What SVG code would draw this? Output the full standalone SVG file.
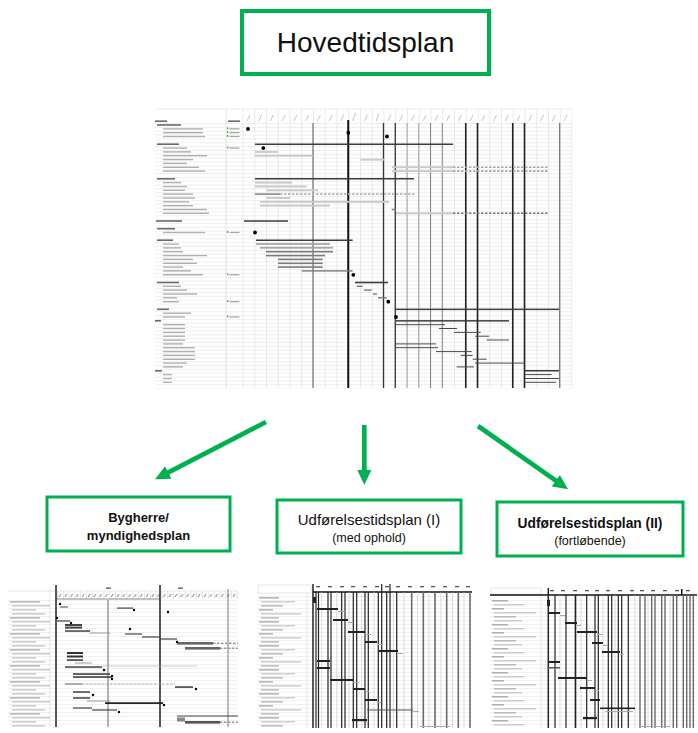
<svg xmlns="http://www.w3.org/2000/svg" width="698" height="733" viewBox="0 0 698 733">
<style>
.box{fill:#fff;stroke:#00B050;stroke-width:3}
.t{font-family:"Liberation Sans",Arial,sans-serif;fill:#111;text-anchor:middle}
.b{font-weight:bold}
.arrow{stroke:#00B050;stroke-width:4.7;fill:none}
.lh{fill:#6a6a6a}
.li{fill:#b0b0b0}
.bd{fill:#3c3c3c}
.bl{fill:#cacaca}
.bm{fill:#7a7a7a}
.bk{fill:#4a4a4a}
.dot{fill:#000}
.ms{fill:#3cb043}
.md{fill:#a8a8a8}
.dash{stroke-dasharray:2.5 1.5;fill:none}
</style>
<defs>
<marker id="ah" markerUnits="userSpaceOnUse" markerWidth="15" markerHeight="14" refX="7" refY="7" orient="auto">
<path d="M0,0 L15,7 L0,14 Z" fill="#00B050"/>
</marker>
<pattern id="mrows" patternUnits="userSpaceOnUse" x="0" y="123.09" width="20" height="3.84"><rect width="20" height="0.45" fill="#dadada"/></pattern>
<pattern id="mcols" patternUnits="userSpaceOnUse" x="242.5" y="0" width="11.75" height="20"><rect width="0.5" height="20" fill="#d6d6d6"/></pattern>
<pattern id="trows" patternUnits="userSpaceOnUse" x="0" y="0" width="20" height="4"><rect width="20" height="0.45" fill="#dedede"/></pattern>
<pattern id="thead1" patternUnits="userSpaceOnUse" x="57" y="591" width="5.8" height="8"><rect x="0" y="0" width="0.4" height="8" fill="#bbb"/><path d="M2,6 l2,-3" stroke="#333" stroke-width="0.7"/></pattern>
<pattern id="lab1" patternUnits="userSpaceOnUse" x="8" y="600" width="47" height="16"><rect x="2" y="1.4" width="30" height="1" fill="#8a8a8a"/><rect x="4" y="5.4" width="38" height="1" fill="#b0b0b0"/><rect x="4" y="9.4" width="24" height="1" fill="#b0b0b0"/><rect x="4" y="13.4" width="33" height="1" fill="#b0b0b0"/></pattern>
<pattern id="lab2" patternUnits="userSpaceOnUse" x="257" y="596" width="50" height="24"><rect x="2" y="1.4" width="20" height="1" fill="#888"/><rect x="4" y="5.4" width="34" height="1" fill="#b5b5b5"/><rect x="4" y="9.4" width="22" height="1" fill="#999"/><rect x="2" y="13.4" width="14" height="1" fill="#888"/><rect x="4" y="17.4" width="40" height="1" fill="#b5b5b5"/><rect x="4" y="21.4" width="18" height="1" fill="#999"/></pattern>
<pattern id="lab3" patternUnits="userSpaceOnUse" x="490" y="599" width="52" height="24"><rect x="2" y="1.4" width="16" height="1" fill="#888"/><rect x="4" y="5.4" width="30" height="1" fill="#b5b5b5"/><rect x="2" y="9.4" width="12" height="1" fill="#888"/><rect x="4" y="13.4" width="42" height="1" fill="#b5b5b5"/><rect x="4" y="17.4" width="22" height="1" fill="#999"/><rect x="4" y="21.4" width="28" height="1" fill="#b5b5b5"/></pattern>
</defs>
<rect width="698" height="733" fill="#fff"/>

<g id="hovedtidsplan">
<rect class="box" x="242" y="11" width="247" height="63" style="stroke-width:4"/>
<text class="t" x="365.5" y="52" font-size="28">Hovedtidsplan</text>
</g>

<g id="main-chart">
<rect x="155" y="109" width="417" height="279" fill="#fff"/>
<rect x="155" y="123" width="417" height="265.5" fill="url(#mrows)"/>
<rect x="242" y="109" width="330.5" height="279" fill="url(#mcols)"/>
<line x1="155" y1="109" x2="572" y2="109" stroke="#ddd" stroke-width="0.6"/>
<line x1="226" y1="109" x2="226" y2="388" stroke="#d0d0d0" stroke-width="0.6"/>
<path d="M247,121 l3,-6 M258.7,121 l3,-6 M270.4,121 l3,-6 M282.1,121 l3,-6 M293.9,121 l3,-6 M305.6,121 l3,-6 M317.4,121 l3,-6 M329.1,121 l3,-6 M340.9,121 l3,-7 M352.6,121 l3,-8 M364.4,121 l3,-6 M376.1,121 l3,-8 M387.9,121 l3,-6 M399.6,121 l3,-6 M411.4,121 l3,-6 M423.1,121 l3,-6 M434.9,121 l3,-6 M446.6,121 l3,-6 M458.4,121 l3,-6 M470.1,121 l3,-6 M481.9,121 l3,-6 M493.6,121 l3,-6 M505.4,121 l3,-6 M517.1,121 l3,-6 M528.9,121 l3,-6 M540.6,121 l3,-6 M552.4,121 l3,-6 M564.1,121 l3,-6" stroke="#9a9a9a" stroke-width="0.6"/>
<!-- dark verticals -->
<g fill="none">
<line x1="313" y1="123" x2="313" y2="388" stroke="#555" stroke-width="1"/>
<line x1="348.25" y1="120" x2="348.25" y2="388" stroke="#111" stroke-width="2"/>
<line x1="383.5" y1="123" x2="383.5" y2="388" stroke="#333" stroke-width="1.3"/>
<line x1="395.25" y1="123" x2="395.25" y2="388" stroke="#333" stroke-width="1.3"/>
<line x1="407" y1="123" x2="407" y2="388" stroke="#8a8a8a" stroke-width="0.8"/>
<line x1="418.75" y1="123" x2="418.75" y2="388" stroke="#8a8a8a" stroke-width="0.8"/>
<line x1="430.5" y1="123" x2="430.5" y2="388" stroke="#666" stroke-width="0.8"/>
<line x1="442.25" y1="123" x2="442.25" y2="388" stroke="#666" stroke-width="0.8"/>
<line x1="465.75" y1="123" x2="465.75" y2="388" stroke="#222" stroke-width="1.6"/>
<line x1="477.5" y1="123" x2="477.5" y2="388" stroke="#222" stroke-width="1.6"/>
<line x1="512.75" y1="123" x2="512.75" y2="388" stroke="#222" stroke-width="1.6"/>
<line x1="524.5" y1="123" x2="524.5" y2="388" stroke="#222" stroke-width="1.6"/>
<line x1="559.75" y1="123" x2="559.75" y2="388" stroke="#555" stroke-width="1"/>
</g>
<!-- labels -->
<rect class="lh" x="155" y="120.4" width="12" height="1.6"/>
<rect class="lh" x="228" y="120.4" width="12" height="1.6"/>
<rect class="lh" x="157" y="124.2" width="24" height="1.6"/>
<rect class="li" x="163" y="128.2" width="40" height="1.4"/>
<rect class="li" x="163" y="132" width="40" height="1.4"/>
<rect class="li" x="163" y="135.8" width="42" height="1.4"/>
<rect class="lh" x="157" y="143.4" width="22" height="1.6"/>
<rect class="li" x="163" y="147.4" width="24" height="1.4"/>
<rect class="li" x="163" y="151.2" width="28" height="1.4"/>
<rect class="li" x="163" y="155" width="44" height="1.4"/>
<rect class="li" x="163" y="158.9" width="30" height="1.4"/>
<rect class="li" x="163" y="162.7" width="24" height="1.4"/>
<rect class="li" x="163" y="166.6" width="36" height="1.4"/>
<rect class="li" x="163" y="170.4" width="42" height="1.4"/>
<rect class="lh" x="157" y="178" width="18" height="1.6"/>
<rect class="li" x="163" y="181.9" width="18" height="1.4"/>
<rect class="li" x="163" y="185.8" width="24" height="1.4"/>
<rect class="li" x="163" y="189.6" width="22" height="1.4"/>
<rect class="li" x="163" y="193.4" width="30" height="1.4"/>
<rect class="li" x="163" y="197.3" width="32" height="1.4"/>
<rect class="li" x="163" y="201.1" width="26" height="1.4"/>
<rect class="li" x="163" y="205" width="30" height="1.4"/>
<rect class="li" x="163" y="208.8" width="44" height="1.4"/>
<rect class="li" x="163" y="212.6" width="46" height="1.4"/>
<rect class="lh" x="156" y="220.2" width="26" height="1.6"/>
<rect class="lh" x="157" y="227.9" width="18" height="1.6"/>
<rect class="li" x="163" y="231.8" width="42" height="1.4"/>
<rect class="lh" x="157" y="239.4" width="16" height="1.6"/>
<rect class="li" x="163" y="243.4" width="16" height="1.4"/>
<rect class="li" x="163" y="247.2" width="18" height="1.4"/>
<rect class="li" x="163" y="251" width="20" height="1.4"/>
<rect class="li" x="163" y="254.9" width="44" height="1.4"/>
<rect class="li" x="163" y="258.7" width="30" height="1.4"/>
<rect class="li" x="163" y="262.6" width="34" height="1.4"/>
<rect class="li" x="163" y="266.4" width="20" height="1.4"/>
<rect class="li" x="163" y="270.2" width="28" height="1.4"/>
<rect class="li" x="163" y="274.1" width="40" height="1.4"/>
<rect class="lh" x="157" y="281.7" width="22" height="1.6"/>
<rect class="li" x="163" y="285.6" width="18" height="1.4"/>
<rect class="li" x="163" y="289.4" width="24" height="1.4"/>
<rect class="li" x="163" y="293.3" width="34" height="1.4"/>
<rect class="li" x="163" y="297.1" width="14" height="1.4"/>
<rect class="li" x="163" y="301" width="16" height="1.4"/>
<rect class="lh" x="157" y="308.5" width="12" height="1.6"/>
<rect class="li" x="163" y="312.5" width="28" height="1.4"/>
<rect class="li" x="163" y="316.3" width="22" height="1.4"/>
<rect class="lh" x="155" y="320" width="6" height="1.6"/>
<rect class="li" x="163" y="324" width="22" height="1.4"/>
<rect class="li" x="163" y="327.8" width="22" height="1.4"/>
<rect class="li" x="163" y="331.7" width="22" height="1.4"/>
<rect class="li" x="163" y="335.5" width="22" height="1.4"/>
<rect class="li" x="163" y="339.4" width="22" height="1.4"/>
<rect class="li" x="163" y="343.2" width="20" height="1.4"/>
<rect class="li" x="163" y="347" width="32" height="1.4"/>
<rect class="li" x="163" y="350.9" width="32" height="1.4"/>
<rect class="li" x="163" y="354.7" width="32" height="1.4"/>
<rect class="li" x="163" y="358.6" width="32" height="1.4"/>
<rect class="li" x="163" y="362.4" width="24" height="1.4"/>
<rect class="li" x="163" y="366.2" width="20" height="1.4"/>
<rect class="lh" x="155" y="370" width="7" height="1.6"/>
<rect class="li" x="163" y="373.9" width="9" height="1.4"/>
<rect class="li" x="163" y="377.8" width="9" height="1.4"/>
<rect class="li" x="163" y="381.6" width="9" height="1.4"/>
<!-- milestone column -->
<rect class="ms" x="227" y="127.4" width="1.3" height="2"/><rect class="md" x="229.5" y="128.2" width="10" height="1.3"/>
<rect class="ms" x="227" y="131.2" width="1.3" height="2"/><rect class="md" x="229.5" y="132" width="10" height="1.3"/>
<rect class="ms" x="227" y="135" width="1.3" height="2"/><rect class="md" x="229.5" y="135.8" width="10" height="1.3"/>
<rect class="ms" x="227" y="146.6" width="1.3" height="2"/><rect class="md" x="229.5" y="147.4" width="10" height="1.3"/>
<rect class="ms" x="227" y="231" width="1.3" height="2"/><rect class="md" x="229.5" y="231.8" width="10" height="1.3"/>
<rect class="ms" x="227" y="273.3" width="1.3" height="2"/><rect class="md" x="229.5" y="274.1" width="10" height="1.3"/>
<rect class="ms" x="227" y="300.2" width="1.3" height="2"/><rect class="md" x="229.5" y="301" width="10" height="1.3"/>
<rect class="ms" x="227" y="315.5" width="1.3" height="2"/><rect class="md" x="229.5" y="316.3" width="10" height="1.3"/>
<!-- bars -->
<rect class="bd" x="255" y="143.5" width="198" height="1.5"/>
<rect class="bl" x="255" y="150.9" width="22.7" height="2"/>
<rect class="bl" x="255" y="154.7" width="57.7" height="2"/>
<rect class="bl" x="360.7" y="158.6" width="23.3" height="2"/>
<rect class="bl" x="392" y="166.2" width="61" height="2"/>
<rect class="bl" x="392" y="170.1" width="61" height="2"/>
<line class="dash" x1="453" y1="167.2" x2="548" y2="167.2" stroke="#a5a5a5" stroke-width="1.6"/>
<line class="dash" x1="453" y1="171.1" x2="548" y2="171.1" stroke="#a5a5a5" stroke-width="1.6"/>
<rect class="bd" x="255" y="178" width="159" height="1.5"/>
<rect class="bl" x="255" y="181.6" width="37" height="2"/>
<rect class="bl" x="255" y="185.4" width="51.7" height="2"/>
<rect class="bl" x="266.7" y="189.3" width="51.3" height="2"/>
<rect class="bm" x="255" y="193.4" width="25" height="1.4"/>
<line class="dash" x1="280" y1="194.1" x2="415" y2="194.1" stroke="#b5b5b5" stroke-width="1.6"/>
<rect class="bl" x="266.7" y="197" width="23.3" height="2"/>
<rect class="bl" x="260" y="200.8" width="129" height="2"/>
<rect class="bl" x="260" y="204.6" width="70" height="2"/>
<rect class="bm" x="391.7" y="208.8" width="4.3" height="1.4"/>
<rect class="bl" x="396" y="212.3" width="57" height="2"/>
<line class="dash" x1="453" y1="213.3" x2="548" y2="213.3" stroke="#777" stroke-width="1.5"/>
<rect class="bd" x="244" y="220.3" width="44" height="1.5"/>
<rect class="bd" x="256" y="239.5" width="96.7" height="1.5"/>
<rect class="md" x="256" y="243.1" width="74" height="1.8"/>
<rect class="md" x="260" y="246.9" width="73" height="1.8"/>
<rect class="bm" x="266" y="250.9" width="67" height="1.6"/>
<rect class="bm" x="266" y="254.8" width="59" height="1.6"/>
<rect class="bm" x="278" y="258.6" width="44.7" height="1.6"/>
<rect class="bm" x="278" y="262.5" width="44.7" height="1.6"/>
<rect class="bm" x="278" y="266.3" width="44.7" height="1.6"/>
<rect class="bm" x="301.7" y="270.2" width="51" height="1.4"/>
<rect class="bd" x="355" y="281.7" width="33" height="1.6"/>
<rect class="bm" x="356.7" y="285.6" width="6" height="1.4"/>
<rect class="bm" x="364" y="289.4" width="7.7" height="1.4"/>
<rect class="bm" x="373" y="293.3" width="4" height="1.4"/>
<rect class="bm" x="378" y="297.1" width="8.7" height="1.4"/>
<rect class="bd" x="395" y="308.6" width="164" height="1.5"/>
<rect class="bd" x="396" y="320.1" width="113" height="1.5"/>
<rect class="bk" x="396" y="324.2" width="49" height="1"/>
<rect class="bk" x="439" y="328" width="18" height="1"/>
<rect class="bk" x="454" y="331.9" width="26.7" height="1"/>
<rect class="bk" x="475" y="335.7" width="14" height="1"/>
<rect class="bk" x="486.7" y="339.5" width="22.3" height="1"/>
<rect class="bk" x="396" y="343.4" width="40" height="1"/>
<rect class="bk" x="396" y="347.2" width="42" height="1"/>
<rect class="bk" x="436" y="351.1" width="35.7" height="1"/>
<rect class="bk" x="460.7" y="354.9" width="12" height="1"/>
<rect class="bk" x="472.7" y="358.7" width="14" height="1"/>
<rect class="bk" x="475" y="362.6" width="50" height="1"/>
<rect class="bk" x="456.7" y="366.4" width="17.3" height="1"/>
<rect class="bd" x="525" y="370" width="34" height="1.5"/>
<rect class="bk" x="525" y="374.1" width="26.7" height="1"/>
<rect class="bk" x="525" y="378" width="34" height="1"/>
<rect class="bk" x="525" y="381.8" width="31" height="1"/>
<!-- milestones -->
<circle class="dot" cx="248" cy="128.9" r="1.9"/>
<circle class="dot" cx="348.3" cy="132.7" r="1.9"/>
<circle class="dot" cx="387" cy="136.5" r="1.9"/>
<circle class="dot" cx="263.3" cy="148.1" r="1.9"/>
<circle class="dot" cx="255" cy="232.5" r="1.9"/>
<circle class="dot" cx="353.3" cy="274.8" r="1.9"/>
<circle class="dot" cx="388.3" cy="301.7" r="1.9"/>
<circle class="dot" cx="396" cy="317" r="1.9"/>
</g>

<g id="connectors">
<line class="arrow" x1="266" y1="422" x2="162.1" y2="475.6" marker-end="url(#ah)"/>
<line class="arrow" x1="364.3" y1="425" x2="364.3" y2="477" marker-end="url(#ah)"/>
<line class="arrow" x1="478" y1="426" x2="561.5" y2="484.7" marker-end="url(#ah)"/>
</g>

<g id="bygherre">
<rect class="box" x="47" y="497" width="183" height="54"/>
<text class="t b" x="138.5" y="522" font-size="13">Bygherre/</text>
<text class="t b" x="138.5" y="540" font-size="13">myndighedsplan</text>
</g>

<g id="udfoerelse-1">
<rect class="box" x="277" y="500" width="184" height="53"/>
<text class="t" x="369" y="525" font-size="15">Udførelsestidsplan (I)</text>
<text class="t" x="369" y="542" font-size="12.5">(med ophold)</text>
</g>

<g id="udfoerelse-2">
<rect class="box" x="497" y="502" width="186" height="54"/>
<text class="t b" x="590" y="528" font-size="13.8">Udførelsestidsplan (II)</text>
<text class="t" x="590" y="545" font-size="12.5">(fortløbende)</text>
</g>

<g id="thumb-bygherre">
<rect x="8" y="600" width="230" height="127" fill="url(#trows)"/>
<rect x="8" y="600" width="42" height="127" fill="url(#lab1)"/>
<line x1="50" y1="589" x2="50" y2="727" stroke="#ccc" stroke-width="0.5"/>
<rect x="57" y="591" width="181" height="8" fill="url(#thead1)"/>
<line x1="8" y1="591" x2="238" y2="591" stroke="#ccc" stroke-width="0.5"/>
<line x1="56" y1="599" x2="160" y2="599" stroke="#555" stroke-width="0.7"/>
<rect x="106" y="587.5" width="5" height="1.3" fill="#555"/>
<rect x="178" y="587.5" width="5" height="1.3" fill="#555"/>
<line x1="56" y1="585" x2="56" y2="727" stroke="#222" stroke-width="1.5"/>
<line x1="108" y1="600" x2="108" y2="727" stroke="#444" stroke-width="0.8"/>
<line x1="160" y1="585" x2="160" y2="727" stroke="#222" stroke-width="1.5"/>
<line x1="228" y1="589" x2="228" y2="727" stroke="#555" stroke-width="0.8"/>
<g fill="#444">
<rect x="60" y="606.5" width="8" height="1"/>
<rect x="117" y="607.5" width="16" height="1.2"/>
<rect x="57" y="620.4" width="13" height="1.2"/>
<rect x="65" y="624" width="17" height="2"/>
<rect x="65" y="626.6" width="17" height="2"/>
<rect x="65" y="630.3" width="25" height="1.5"/>
<rect x="90" y="632.5" width="20" height="1" fill="#999"/>
<rect x="125" y="633.4" width="17" height="1.2"/>
<rect x="142" y="636.4" width="18" height="1.2"/>
<rect x="160" y="638.4" width="17" height="1.2"/>
<rect x="177" y="642" width="36" height="2.6" fill="#666"/>
<rect x="185" y="647" width="35" height="2.6" fill="#666"/>
<rect x="67" y="652" width="16" height="2" fill="#333"/>
<rect x="67" y="655.5" width="16" height="2" fill="#333"/>
<rect x="67" y="659.3" width="16" height="1.5" fill="#333"/>
<rect x="75" y="662.5" width="17" height="1" fill="#999"/>
<rect x="65" y="666.3" width="37" height="1.5"/>
<rect x="102" y="665.7" width="95" height="0.6" fill="#aaa"/>
<rect x="73" y="673.3" width="37" height="1.5" fill="#333"/>
<rect x="73" y="676.3" width="39" height="1.5" fill="#333"/>
<rect x="65" y="683.5" width="17" height="1" fill="#666"/>
<rect x="175" y="686.3" width="18" height="1.5" fill="#333"/>
<rect x="73" y="691.3" width="17" height="1.4" fill="#333"/>
<rect x="73" y="697.3" width="17" height="1.4" fill="#333"/>
<rect x="87" y="700.5" width="23" height="1" fill="#999"/>
<rect x="105" y="702.3" width="58" height="1.6" fill="#111"/>
<rect x="73" y="707.4" width="19" height="1.2"/>
<rect x="92" y="709.4" width="25" height="1.2"/>
<rect x="177" y="715.5" width="61" height="1"/>
<rect x="177" y="717.5" width="8" height="4" fill="#888"/>
<rect x="185" y="721" width="35" height="2.6" fill="#555"/>
</g>
<g class="dash" stroke="#999" stroke-width="1.4">
<line x1="213" y1="643.3" x2="238" y2="643.3"/>
<line x1="220" y1="648.3" x2="238" y2="648.3"/>
<line x1="82" y1="684" x2="175" y2="684" stroke-width="0.8"/>
<line x1="220" y1="722.3" x2="238" y2="722.3"/>
</g>
<g class="dot">
<circle cx="60" cy="604" r="1.2"/><circle cx="134" cy="610" r="1.2"/><circle cx="168" cy="612" r="1.2"/><circle cx="57" cy="618" r="1.2"/><circle cx="71" cy="623" r="1.2"/><circle cx="130" cy="629" r="1.2"/><circle cx="177" cy="642" r="1.2"/><circle cx="104" cy="670" r="1.2"/><circle cx="112" cy="676" r="1.2"/><circle cx="112" cy="679" r="1.2"/><circle cx="196" cy="689" r="1.2"/><circle cx="93" cy="695" r="1.2"/><circle cx="164" cy="705" r="1.2"/><circle cx="119" cy="712" r="1.2"/>
</g>
</g>

<g id="thumb-udfoerelse-1">
<rect x="257" y="596" width="215" height="132" fill="url(#trows)"/>
<rect x="257" y="596" width="48" height="132" fill="url(#lab2)"/>
<rect x="258" y="585" width="53" height="8" fill="none" stroke="#ccc" stroke-width="0.5"/>
<line x1="307" y1="593" x2="307" y2="728" stroke="#ccc" stroke-width="0.5"/>
<g fill="#555">
<rect x="316" y="586" width="4" height="1.3"/><rect x="328" y="586" width="4" height="1.3"/><rect x="340" y="586" width="4" height="1.3"/><rect x="351" y="586" width="4" height="1.3"/><rect x="363" y="586" width="4" height="1.3"/><rect x="375" y="586" width="4" height="1.3"/><rect x="385" y="586" width="4" height="1.3"/><rect x="396" y="586" width="4" height="1.3"/><rect x="408" y="586" width="4" height="1.3"/><rect x="420" y="586" width="4" height="1.3"/><rect x="431" y="586" width="4" height="1.3"/><rect x="443" y="586" width="4" height="1.3"/><rect x="455" y="586" width="4" height="1.3"/><rect x="466" y="586" width="4" height="1.3"/>
</g>
<line x1="313" y1="592" x2="472" y2="592" stroke="#111" stroke-width="1.3"/>
<g stroke="#c4c4c4" stroke-width="0.6">
<line x1="321.7" y1="592" x2="321.7" y2="728"/><line x1="336.7" y1="592" x2="336.7" y2="728"/><line x1="349" y1="592" x2="349" y2="728"/><line x1="361.7" y1="592" x2="361.7" y2="728"/><line x1="374" y1="592" x2="374" y2="728"/><line x1="393.3" y1="592" x2="393.3" y2="728"/><line x1="404" y1="592" x2="404" y2="728"/><line x1="417.5" y1="592" x2="417.5" y2="728"/><line x1="429" y1="592" x2="429" y2="728"/><line x1="440.8" y1="592" x2="440.8" y2="728"/><line x1="452.5" y1="592" x2="452.5" y2="728"/><line x1="464" y1="592" x2="464" y2="728"/>
</g>
<g stroke="#222" stroke-width="1.2">
<line x1="313" y1="584" x2="313" y2="728" stroke-width="1.5"/><line x1="316" y1="592" x2="316" y2="728"/><line x1="318.5" y1="592" x2="318.5" y2="728"/><line x1="328" y1="592" x2="328" y2="728"/><line x1="331" y1="592" x2="331" y2="728"/><line x1="341.7" y1="592" x2="341.7" y2="728"/><line x1="345" y1="592" x2="345" y2="728"/><line x1="353.3" y1="592" x2="353.3" y2="728"/><line x1="356.7" y1="592" x2="356.7" y2="728"/><line x1="365" y1="592" x2="365" y2="728"/><line x1="368.3" y1="592" x2="368.3" y2="728"/><line x1="378.3" y1="592" x2="378.3" y2="728"/><line x1="381.7" y1="584" x2="381.7" y2="728"/><line x1="386.7" y1="592" x2="386.7" y2="728"/><line x1="390" y1="584" x2="390" y2="728"/><line x1="396.7" y1="592" x2="396.7" y2="728"/>
</g>
<g stroke="#6a6a6a" stroke-width="1.6">
<line x1="411.7" y1="592" x2="411.7" y2="728"/><line x1="423.3" y1="592" x2="423.3" y2="728"/><line x1="435" y1="592" x2="435" y2="728"/><line x1="446.7" y1="592" x2="446.7" y2="728"/><line x1="458.3" y1="592" x2="458.3" y2="728"/><line x1="470" y1="592" x2="470" y2="728"/>
</g>
<g fill="#222">
<rect x="313" y="597" width="3" height="6"/>
<rect x="317" y="608" width="21" height="2"/>
<rect x="333" y="619" width="15" height="2"/>
<rect x="348" y="631" width="17" height="2"/>
<rect x="365" y="641" width="12" height="2"/>
<rect x="378" y="650" width="20" height="2"/>
<rect x="317" y="660" width="13" height="2"/>
<rect x="317" y="667" width="13" height="2"/>
<rect x="330" y="679" width="23" height="2"/>
<rect x="353" y="688" width="12" height="2"/>
<rect x="365" y="699" width="12" height="2"/>
<rect x="367" y="709.5" width="46" height="1" fill="#555"/>
<rect x="352" y="719" width="15" height="2.2"/>
</g>
<g fill="#aaa">
<rect x="338" y="611" width="7" height="1"/><rect x="348" y="622" width="4" height="1"/><rect x="365" y="634" width="6" height="1"/><rect x="377" y="644" width="6" height="1"/><rect x="398" y="653" width="5" height="1"/><rect x="353" y="682" width="6" height="1"/><rect x="365" y="691" width="4" height="1"/><rect x="377" y="702" width="4" height="1"/><rect x="413" y="711" width="6" height="1"/><rect x="420" y="726" width="30" height="1"/>
</g>
</g>

<g id="thumb-udfoerelse-2">
<rect x="490" y="599" width="207" height="129" fill="url(#trows)"/>
<rect x="490" y="599" width="51" height="129" fill="url(#lab3)"/>
<rect x="491" y="588" width="50" height="6" fill="none" stroke="#ccc" stroke-width="0.5"/>
<line x1="541" y1="595" x2="541" y2="728" stroke="#ccc" stroke-width="0.5"/>
<g fill="#555">
<rect x="550" y="590" width="4" height="1.3"/><rect x="561" y="590" width="4" height="1.3"/><rect x="573" y="590" width="4" height="1.3"/><rect x="585" y="590" width="4" height="1.3"/><rect x="595" y="590" width="4" height="1.3"/><rect x="606" y="590" width="4" height="1.3"/><rect x="618" y="590" width="4" height="1.3"/><rect x="630" y="590" width="4" height="1.3"/><rect x="640" y="590" width="4" height="1.3"/><rect x="651" y="590" width="4" height="1.3"/><rect x="663" y="590" width="4" height="1.3"/><rect x="675" y="590" width="4" height="1.3"/><rect x="681" y="589" width="1.5" height="6" fill="#111"/><rect x="686" y="590" width="4" height="1.3"/>
</g>
<line x1="490" y1="595" x2="697" y2="595" stroke="#111" stroke-width="1.3"/>
<g stroke="#c4c4c4" stroke-width="0.6">
<line x1="560" y1="595" x2="560" y2="728"/><line x1="575" y1="595" x2="575" y2="728"/><line x1="581" y1="595" x2="581" y2="728"/><line x1="603" y1="595" x2="603" y2="728"/><line x1="615" y1="595" x2="615" y2="728"/><line x1="635" y1="595" x2="635" y2="728"/><line x1="648" y1="595" x2="648" y2="728"/><line x1="670" y1="595" x2="670" y2="728"/>
</g>
<g stroke="#222" stroke-width="1.2">
<line x1="548.3" y1="588" x2="548.3" y2="728" stroke-width="1.5"/><line x1="555" y1="595" x2="555" y2="728"/><line x1="566" y1="595" x2="566" y2="728"/><line x1="575.5" y1="595" x2="575.5" y2="728" stroke-width="1.6"/><line x1="586.7" y1="595" x2="586.7" y2="728"/><line x1="595" y1="595" x2="595" y2="728"/><line x1="598.3" y1="595" x2="598.3" y2="728"/><line x1="608.3" y1="595" x2="608.3" y2="728"/><line x1="611.7" y1="595" x2="611.7" y2="728"/><line x1="618.3" y1="595" x2="618.3" y2="728"/><line x1="621.7" y1="595" x2="621.7" y2="728"/><line x1="628.3" y1="595" x2="628.3" y2="728"/>
</g>
<g stroke="#6a6a6a" stroke-width="1.4">
<line x1="640" y1="595" x2="640" y2="728"/><line x1="645" y1="595" x2="645" y2="728"/><line x1="651.7" y1="595" x2="651.7" y2="728"/><line x1="655" y1="595" x2="655" y2="728"/><line x1="661.7" y1="595" x2="661.7" y2="728"/><line x1="665" y1="595" x2="665" y2="728"/><line x1="673.3" y1="595" x2="673.3" y2="728"/><line x1="676.7" y1="595" x2="676.7" y2="728"/><line x1="683.3" y1="595" x2="683.3" y2="728"/><line x1="686.7" y1="595" x2="686.7" y2="728"/><line x1="690" y1="595" x2="690" y2="728"/><line x1="693.3" y1="595" x2="693.3" y2="728"/>
</g>
<g fill="#222">
<rect x="547" y="600" width="3" height="6"/>
<rect x="548" y="612" width="12" height="2"/>
<rect x="565" y="622" width="12" height="2"/>
<rect x="577" y="631" width="20" height="2"/>
<rect x="592" y="642" width="11" height="2"/>
<rect x="602" y="651" width="18" height="2"/>
<rect x="548" y="661" width="12" height="2"/>
<rect x="548" y="667" width="12" height="1.5" fill="#555"/>
<rect x="558" y="677" width="29" height="2"/>
<rect x="580" y="687" width="15" height="2"/>
<rect x="590" y="699" width="10" height="2"/>
<rect x="600" y="707.5" width="35" height="1.6"/>
<rect x="583" y="717" width="14" height="2.2"/>
</g>
<g fill="#aaa">
<rect x="560" y="615" width="5" height="1"/><rect x="577" y="625" width="4" height="1"/><rect x="597" y="634" width="6" height="1"/><rect x="603" y="645" width="5" height="1"/><rect x="620" y="654" width="4" height="1"/><rect x="587" y="680" width="5" height="1"/><rect x="595" y="690" width="4" height="1"/><rect x="605" y="711" width="28" height="1"/><rect x="640" y="726" width="30" height="1"/>
</g>
</g>
</svg>
